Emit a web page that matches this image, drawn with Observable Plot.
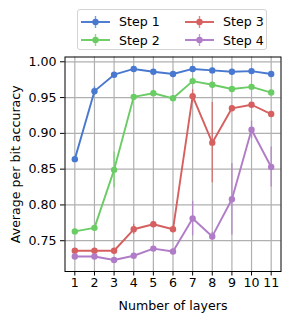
<!DOCTYPE html>
<html>
<head>
<meta charset="utf-8">
<script src="https://cdn.jsdelivr.net/npm/d3@7"></script>
<script src="https://cdn.jsdelivr.net/npm/@observablehq/plot@0.6"></script>
<style>
  body { margin: 0; background: #fff; }
  #wrap { position: relative; width: 290px; height: 320px; font-family: "DejaVu Sans", sans-serif; }
  #legend { position: absolute; left: 77px; top: 9px; width: 190px; height: 41px; border: 1px solid #d3d3d3; border-radius: 3px; background: rgba(255,255,255,0.85); box-sizing: border-box; }
  .entry { position: absolute; display: flex; align-items: center; font-size: 12.6px; color: #000; height: 16px; }
  .entry svg { margin-right: 9px; }
</style>
</head>
<body>
<div id="wrap"><div id="chart"></div><div id="legend"></div></div>
<script>
const layers = [1, 2, 3, 4, 5, 6, 7, 8, 9, 10, 11];
const seriesNames = ["Step 1", "Step 2", "Step 3", "Step 4"];
const seriesColors = ["#4878d0", "#6acc64", "#d65f5f", "#b07cc8"];
const step1 = [0.864, 0.959, 0.982, 0.990, 0.986, 0.983, 0.990, 0.988, 0.986, 0.987, 0.983];
const step2 = [0.763, 0.768, 0.849, 0.951, 0.956, 0.949, 0.973, 0.968, 0.962, 0.965, 0.957];
const step3 = [0.736, 0.736, 0.736, 0.766, 0.773, 0.766, 0.952, 0.887, 0.935, 0.940, 0.927];
const step4 = [0.728, 0.728, 0.723, 0.729, 0.739, 0.735, 0.781, 0.756, 0.808, 0.905, 0.853];
const err1 = [0.002, 0.006, 0.002, 0.002, 0.002, 0.002, 0.002, 0.002, 0.002, 0.002, 0.002];
const err2 = [0.003, 0.003, 0.025, 0.003, 0.003, 0.004, 0.004, 0.003, 0.003, 0.003, 0.003];
const err3 = [0.003, 0.003, 0.003, 0.007, 0.004, 0.003, 0.009, 0.056, 0.003, 0.003, 0.003];
const err4 = [0.003, 0.003, 0.003, 0.003, 0.003, 0.003, 0.024, 0.006, 0.050, 0.012, 0.028];
const yTicks = [0.75, 0.80, 0.85, 0.90, 0.95, 1.00];

const values = [step1, step2, step3, step4];
const errs = [err1, err2, err3, err4];
const data = [];
values.forEach((vals, s) => vals.forEach((v, i) => data.push({
  series: seriesNames[s], layer: layers[i], value: v, lo: v - errs[s][i], hi: v + errs[s][i]
})));

const font = "DejaVu Sans, sans-serif";
const chart = Plot.plot({
  width: 290,
  height: 320,
  marginLeft: 64.5,
  marginRight: 9.5,
  marginTop: 56.5,
  marginBottom: 49,
  style: { fontFamily: font, fontSize: "12.6px", background: "white", color: "black" },
  x: { domain: [0.5, 11.5] },
  y: { domain: [0.707, 1.0067] },
  color: { domain: seriesNames, range: seriesColors },
  marks: [
    Plot.gridX(layers, { stroke: "#b0b0b0", strokeOpacity: 1, strokeWidth: 1.2 }),
    Plot.gridY(yTicks, { stroke: "#b0b0b0", strokeOpacity: 1, strokeWidth: 1.2 }),
    Plot.ruleX(data, { x: "layer", y1: "lo", y2: "hi", stroke: "series", strokeWidth: 1.4, strokeOpacity: 0.75 }),
    Plot.line(data, { x: "layer", y: "value", z: "series", stroke: "series", strokeWidth: 1.9 }),
    Plot.dot(data, { x: "layer", y: "value", fill: "series", r: 3.2 }),
    Plot.frame({ stroke: "black", strokeWidth: 1 }),
    Plot.axisX(layers, { tickSize: 4.5, tickPadding: 2.5, fontSize: 12.6, label: "Number of layers", labelAnchor: "center", labelArrow: "none", labelOffset: 38 }),
    Plot.axisY(yTicks, { tickSize: 4.5, tickPadding: 4, fontSize: 12.6, tickFormat: d3.format(".2f"), label: "Average per bit accuracy", labelAnchor: "center", labelArrow: "none", labelOffset: 54 })
  ]
});
document.getElementById("chart").appendChild(chart);

const legend = document.getElementById("legend");
seriesNames.forEach((name, i) => {
  const col = i < 2 ? 0 : 1;
  const row = i % 2;
  const e = document.createElement("div");
  e.className = "entry";
  e.style.left = (3 + col * 104) + "px";
  e.style.top = (3.5 + row * 18.6) + "px";
  const c = seriesColors[i];
  e.innerHTML = `<svg width="29" height="16"><line x1="0" x2="29" y1="8" y2="8" stroke="${c}" stroke-width="1.9"/><line x1="14.5" x2="14.5" y1="2" y2="14" stroke="${c}" stroke-width="1.4" stroke-opacity="0.75"/><circle cx="14.5" cy="8" r="3.2" fill="${c}"/></svg><span>${name}</span>`;
  legend.appendChild(e);
});
</script>
</body>
</html>
